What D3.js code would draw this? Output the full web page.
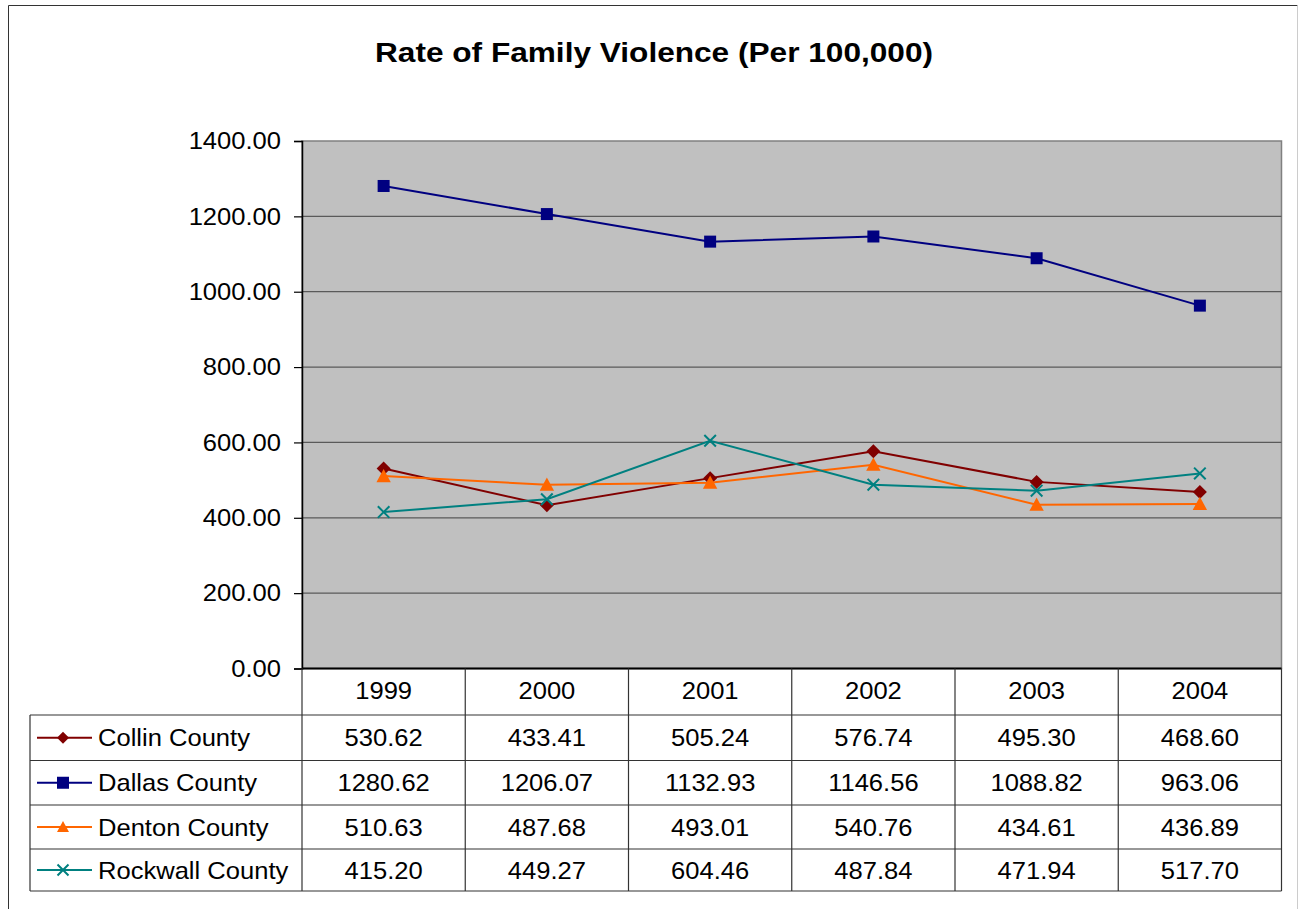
<!DOCTYPE html>
<html><head><meta charset="utf-8">
<script src="https://cdn.jsdelivr.net/npm/d3@7"></script>
<style>body{margin:0;background:#fff;} svg{display:block;font-family:"Liberation Sans",Arial,sans-serif;}</style>
</head><body>
<svg id="c" width="1299" height="909"></svg>
<script>
const years = ["1999","2000","2001","2002","2003","2004"];
const collin = [530.62,433.41,505.24,576.74,495.30,468.60];
const dallas = [1280.62,1206.07,1132.93,1146.56,1088.82,963.06];
const denton = [510.63,487.68,493.01,540.76,434.61,436.89];
const rockwall = [415.20,449.27,604.46,487.84,471.94,517.70];
const seriesNames = ["Collin County","Dallas County","Denton County","Rockwall County"];
const yTicks = [0,200,400,600,800,1000,1200,1400];

const series = [
  {name:seriesNames[0], values:collin, color:"#800000", marker:"diamond"},
  {name:seriesNames[1], values:dallas, color:"#000080", marker:"square"},
  {name:seriesNames[2], values:denton, color:"#FF6600", marker:"triangle"},
  {name:seriesNames[3], values:rockwall, color:"#008080", marker:"x"}
];

const SX = 1.065;
const svg = d3.select("#c");
const L=302, R=1281.5, T=141, B=668.5;
const tableLeft=30;
const rowY=[668.5,715,760.5,805,849,891];

// outer frame
svg.append("line").attr("x1",8.5).attr("x2",8.5).attr("y1",5.5).attr("y2",909).attr("stroke","#333").attr("stroke-width",1);
svg.append("line").attr("x1",8.5).attr("x2",1297.5).attr("y1",5.5).attr("y2",5.5).attr("stroke","#333").attr("stroke-width",1);
svg.append("line").attr("x1",1297.5).attr("x2",1297.5).attr("y1",5.5).attr("y2",909).attr("stroke","#ccc").attr("stroke-width",1);

svg.append("text").attr("x",375).attr("y",62).attr("text-anchor","start")
  .attr("font-size",27).attr("font-weight","bold")
  .attr("textLength",558).attr("lengthAdjust","spacingAndGlyphs")
  .text("Rate of Family Violence (Per 100,000)");

const x = d3.scaleBand().domain(years).range([L,R]);
const y = d3.scaleLinear().domain([0,1400]).range([B,T]);

svg.append("rect").attr("x",L).attr("y",T).attr("width",R-L).attr("height",B-T).attr("fill","#C0C0C0")
  .attr("stroke","#808080").attr("stroke-width",1.5);

// grid
svg.append("g").selectAll("line").data(yTicks.filter(d=>d>0&&d<1400)).join("line")
  .attr("x1",L).attr("x2",R).attr("y1",d=>y(d)).attr("y2",d=>y(d)).attr("stroke","#5a5a5a").attr("stroke-width",1.2);

// y axis
const yAxis = d3.axisLeft(y).tickValues(yTicks).tickFormat(d3.format(".2f")).tickSize(8).tickPadding(12);
const ga = svg.append("g").attr("transform",`translate(${L},0)`).call(yAxis);
ga.select(".domain").attr("stroke","#000").attr("stroke-width",1.5);
ga.selectAll(".tick line").attr("stroke","#000").attr("stroke-width",1.2);
ga.selectAll(".tick text").attr("font-size",24).attr("font-family","Liberation Sans, Arial, sans-serif").attr("fill","#000")
  .attr("x",0).attr("transform",`translate(-21,0) scale(${SX},1)`);

// bottom axis line
svg.append("line").attr("x1",L).attr("x2",R).attr("y1",B).attr("y2",B).attr("stroke","#000").attr("stroke-width",2);

// markers
function drawMarker(g, type, color, s){
  if(type==="diamond"){
    g.append("path").attr("d",`M0,${-s}L${s},0L0,${s}L${-s},0Z`).attr("fill",color);
  } else if(type==="square"){
    g.append("rect").attr("x",-s).attr("y",-s).attr("width",s*2).attr("height",s*2).attr("fill",color);
  } else if(type==="triangle"){
    g.append("path").attr("d",`M0,${-s}L${s},${s*0.85}L${-s},${s*0.85}Z`).attr("fill",color);
  } else {
    g.append("path").attr("d",`M${-s},${-s}L${s},${s}M${-s},${s}L${s},${-s}`).attr("stroke",color).attr("stroke-width",2).attr("fill","none");
  }
}
const mSize = {diamond:7, square:6, triangle:7.2, x:5.8};

const line = d3.line().x((d,i)=>x(years[i])+x.bandwidth()/2).y(d=>y(d));
series.forEach(s=>{
  svg.append("path").datum(s.values).attr("d",line).attr("fill","none").attr("stroke",s.color).attr("stroke-width",2);
  s.values.forEach((v,i)=>{
    const g = svg.append("g").attr("transform",`translate(${x(years[i])+x.bandwidth()/2},${y(v)})`);
    drawMarker(g, s.marker, s.color, mSize[s.marker]);
  });
});

// table
const tg = svg.append("g");
const gridColor="#333";
function txt(px, py, str, anchor){
  tg.append("text").attr("transform",`translate(${px},${py}) scale(${SX},1)`).attr("dy","0.36em")
    .attr("text-anchor",anchor).attr("font-size",24).text(str);
}
const colEdges = years.map(d=>x(d)).concat([R]);
colEdges.forEach(cx=>{
  tg.append("line").attr("x1",cx).attr("x2",cx).attr("y1",B).attr("y2",rowY[5]).attr("stroke",gridColor).attr("stroke-width",1.2);
});
tg.append("line").attr("x1",tableLeft).attr("x2",tableLeft).attr("y1",rowY[1]).attr("y2",rowY[5]).attr("stroke",gridColor).attr("stroke-width",1.2);
for(let r=1;r<=5;r++){
  tg.append("line").attr("x1",tableLeft).attr("x2",R).attr("y1",rowY[r]).attr("y2",rowY[r]).attr("stroke",gridColor).attr("stroke-width",1.2);
}
years.forEach(yr=>{
  txt(x(yr)+x.bandwidth()/2, (rowY[0]+rowY[1])/2 - 1, yr, "middle");
});
series.forEach((s,r)=>{
  const cy=(rowY[r+1]+rowY[r+2])/2;
  s.values.forEach((v,i)=>{
    txt(x(years[i])+x.bandwidth()/2, cy, d3.format(".2f")(v), "middle");
  });
  tg.append("line").attr("x1",37).attr("x2",92).attr("y1",cy).attr("y2",cy).attr("stroke",s.color).attr("stroke-width",2);
  const g = tg.append("g").attr("transform",`translate(63,${cy})`);
  drawMarker(g, s.marker, s.color, s.marker==="x"?5.5:6);
  txt(98, cy, s.name, "start");
});
</script>
</body></html>
